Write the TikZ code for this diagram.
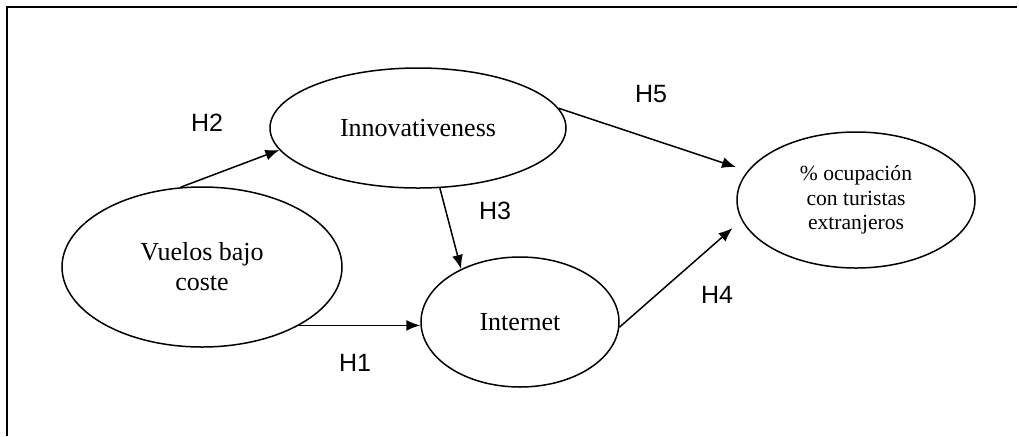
\documentclass[tikz,border=0pt]{standalone}
\usepackage{fontspec}
\setmainfont{Liberation Serif}
\setsansfont{Liberation Sans}
\usetikzlibrary{arrows.meta,shapes.geometric}

\begin{document}
\begin{tikzpicture}[x=0.5pt,y=-0.5pt]
\tikzset{
    construct/.style={
           ellipse,
           draw,
           line width=0.75pt,
           inner sep=0pt,
           align=center,
           font=\fontsize{13}{15}\selectfont},
    hyp/.style={
           inner sep=0pt,
           font=\sffamily\fontsize{12.5}{15}\selectfont},
    % Define arrow style
    arrow/.style= {
           -{Latex[length=7pt,width=5.5pt]},
           line width=0.75pt
    }
}
\useasboundingbox (0,0) rectangle (1019,436);
\draw[line width=1pt] (1017,7) -- (7,7) -- (7,436);
\node[construct,minimum width=148pt,minimum height=60pt] (innov) at (418,128) {Innovativeness};
\node[construct,minimum width=140pt,minimum height=80pt] (vuelos) at (202,267) {Vuelos bajo\\coste};
\node[construct,minimum width=99pt,minimum height=65pt] (internet) at (520,322) {Internet};
\node[construct,minimum width=119pt,minimum height=68pt,font=\fontsize{10.8}{12.3}\selectfont] (ocup) at (856,200) {\% ocupación\\con turistas\\extranjeros};
\node[hyp] (h1) at (355,363) {H1};
\node[hyp] (h2) at (207,123) {H2};
\node[hyp] (h3) at (495,211) {H3};
\node[hyp] (h4) at (717,295) {H4};
\node[hyp] (h5) at (651,94) {H5};
\draw[arrow] (vuelos.-31) -- (vuelos.-31 -| internet.west);
\draw[arrow] (vuelos.105) -- (innov.189);
\draw[arrow] (innov.-70) -- (internet.138);
\draw[arrow,shorten >=6pt] (internet.-3) -- (ocup.190);
\draw[arrow,shorten >=6pt] (innov.8) -- (ocup.165);
\end{tikzpicture}
\end{document}
